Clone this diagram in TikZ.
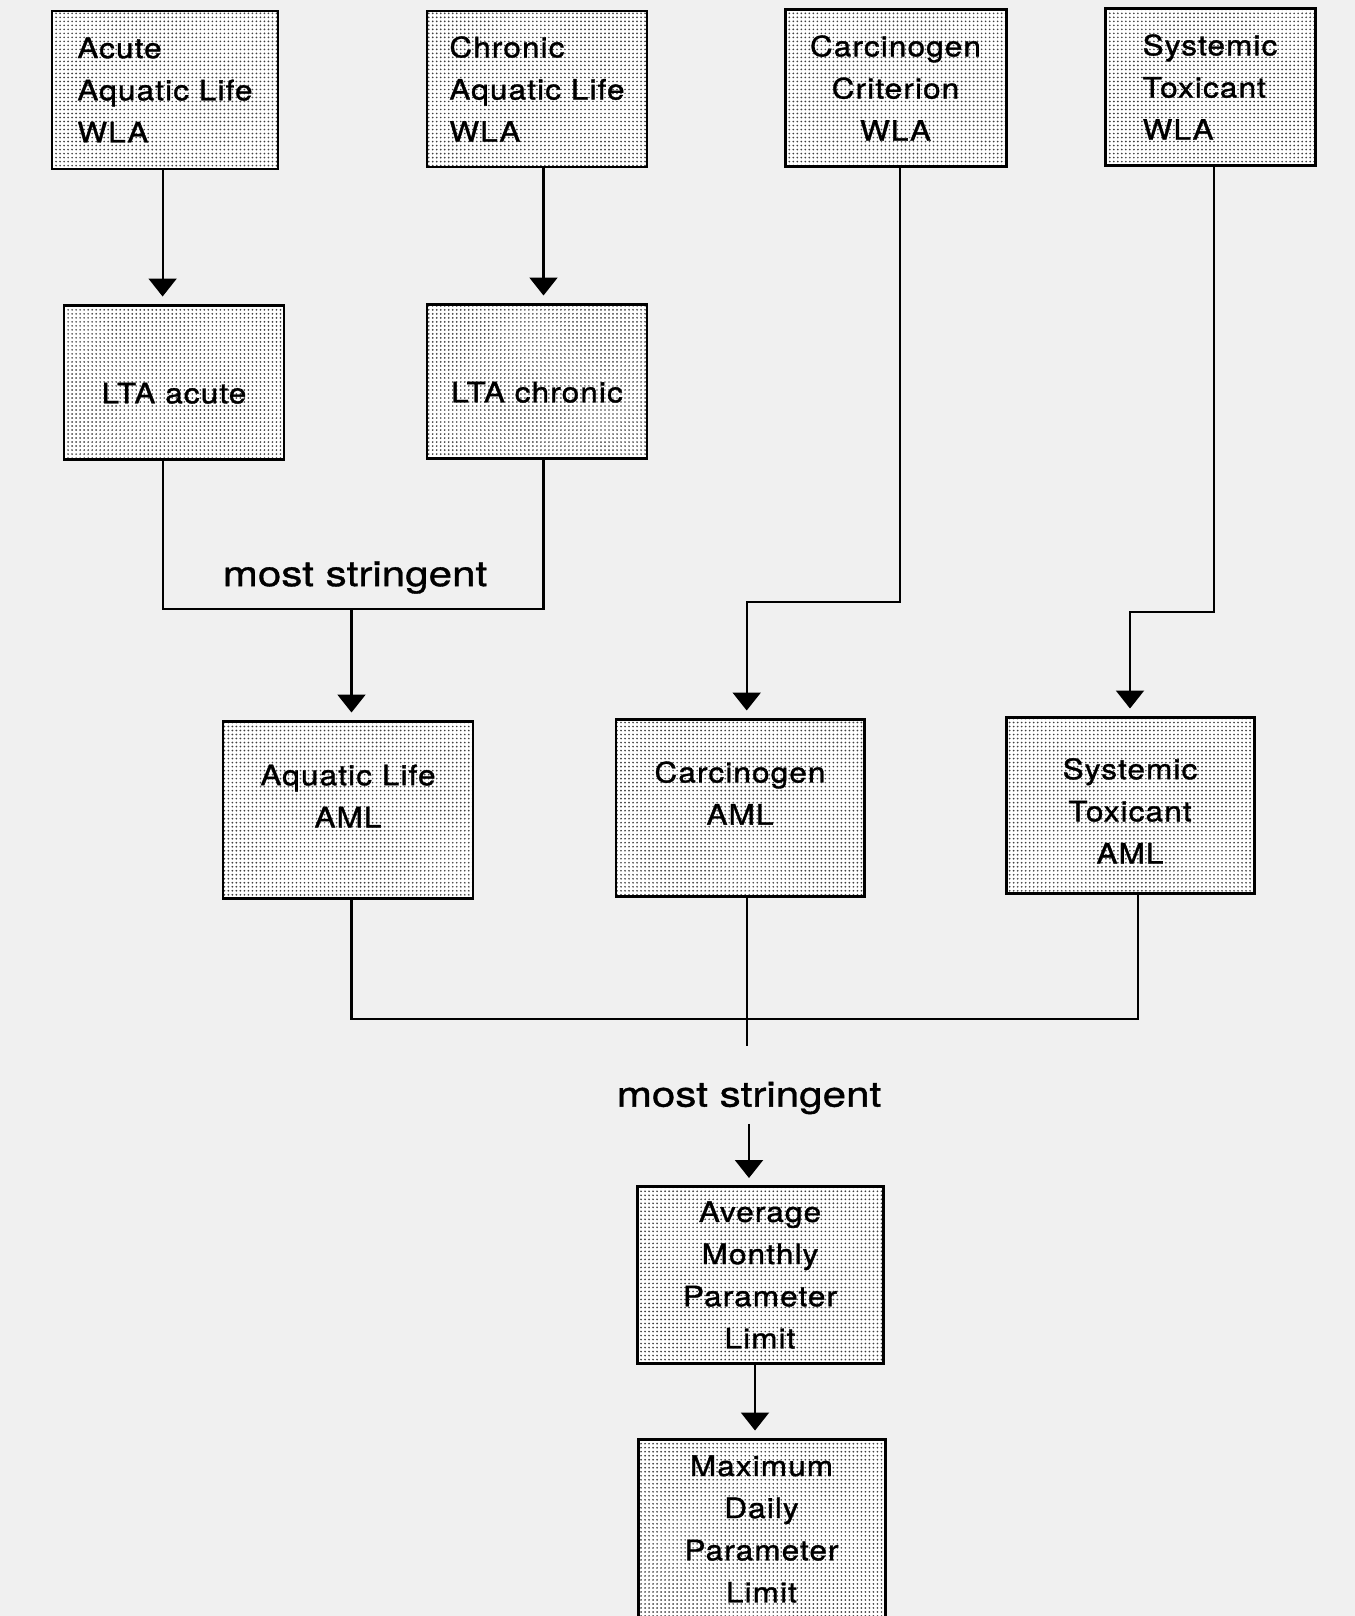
\documentclass[tikz,border=0pt]{standalone}
\usepackage{fontspec}
\setmainfont{TeX Gyre Heros}[FakeStretch=1.2,FakeBold=1]
\newfontfamily\boxfont{TeX Gyre Heros}[FakeStretch=1.12,LetterSpace=4,FakeBold=1.2]
\usetikzlibrary{arrows.meta,patterns.meta}

\tikzset{
  box/.style={draw, line width=0.85pt, preaction={fill=white},
    pattern={Dots[distance=1.14pt,radius=0.27pt]}, pattern color=black!75,
    inner sep=0pt, font=\boxfont\fontsize{8}{12}\selectfont},
  link/.style={line width=0.6pt},
  arr/.style={link, -{Triangle[width=0.28cm,length=0.18cm]}, shorten >=0.07cm},
  stringent/.style={font=\fontsize{10}{12}\selectfont, inner sep=0.09cm}
}

\begin{document}
\begin{tikzpicture}
\useasboundingbox (0,0) rectangle (13.55,-16.16);
\fill[black!6] (0,0) rectangle (13.55,-16.16);

%line columns
\coordinate (cA) at (1.626,0);
\coordinate (cC) at (5.435,0);
\coordinate (cL) at (3.515,0);
\coordinate (cW) at (9.004,0);
\coordinate (cT) at (12.138,0);
\coordinate (cS) at (11.376,0);
\coordinate (cM) at (7.55,0);

%WLA row
\node[box, minimum width=2.26cm, minimum height=1.58cm, align=left] (acute) at (1.65,-0.90) {Acute\\Aquatic Life\\WLA};
\node[box, minimum width=2.20cm, minimum height=1.56cm, align=left] (chronic) at (5.37,-0.89) {Chronic\\Aquatic Life\\WLA};
\node[box, minimum width=2.21cm, minimum height=1.57cm, align=center] (carcWLA) at (8.955,-0.88) {Carcinogen\\Criterion\\WLA};
\node[box, minimum width=2.10cm, minimum height=1.57cm, align=left] (sysWLA) at (12.10,-0.87) {Systemic\\Toxicant\\WLA};

%LTA row
\node[box, minimum width=2.20cm, minimum height=1.54cm, text height=0.43cm] (ltaA) at (1.74,-3.82) {LTA acute};
\node[box, minimum width=2.20cm, minimum height=1.54cm, text height=0.43cm] (ltaC) at (5.37,-3.81) {LTA chronic};

\draw[arr] (acute.south -| cA) -- (ltaA.north -| cA);
\draw[arr] (chronic.south -| cC) -- (ltaC.north -| cC);

%AML row
\node[box, minimum width=2.50cm, minimum height=1.77cm, align=center, text depth=0.27cm] (aqAML) at (3.48,-8.095) {Aquatic Life\\AML};
\node[box, minimum width=2.48cm, minimum height=1.77cm, align=center, text depth=0.29cm] (carcAML) at (7.40,-8.075) {Carcinogen\\AML};
\node[box, minimum width=2.48cm, minimum height=1.76cm, align=center, text height=1.17cm] (sysAML) at (11.30,-8.05) {Systemic\\Toxicant\\AML};

%most stringent of the LTAs
\coordinate (ms1) at (0,-6.09);
\node[stringent] (lab1) at (3.55,-5.775) {most stringent};
\draw[link] (ltaA.south -| cA) -- (cA |- ms1) -- (cC |- ms1) -- (ltaC.south -| cC);
\draw[arr] (ms1 -| cL) -- (aqAML.north -| cL);

\coordinate (kj) at (7.467,-6.02);
\draw[arr] (carcWLA.south -| cW) -- (cW |- kj) -- (kj) -- (kj |- carcAML.north);
\coordinate (sj) at (0,-6.12);
\draw[arr] (sysWLA.south -| cT) -- (cT |- sj) -- (sysAML.north |- sj) -- (sysAML.north);

%most stringent of the AMLs
\coordinate (bj) at (0,-10.19);
\coordinate (bend) at (0,-10.46);
\draw[link] (aqAML.south -| cL) -- (cL |- bj) -- (cS |- bj) -- (sysAML.south -| cS);
\draw[link] (carcAML.south -| kj) -- (kj |- bend);
\node[stringent] (lab2) at (7.49,-10.98) {most stringent};

%limits
\node[box, minimum width=2.46cm, minimum height=1.77cm, align=center] (avg) at (7.60,-12.75) {Average\\Monthly\\Parameter\\Limit};
\node[box, minimum width=2.47cm, minimum height=1.80cm, align=center] (maxd) at (7.615,-15.29) {Maximum\\Daily\\Parameter\\Limit};

\draw[arr] (lab2.south) -- (lab2.south |- avg.north);
\draw[arr] (avg.south -| cM) -- (maxd.north -| cM);

\end{tikzpicture}
\end{document}
